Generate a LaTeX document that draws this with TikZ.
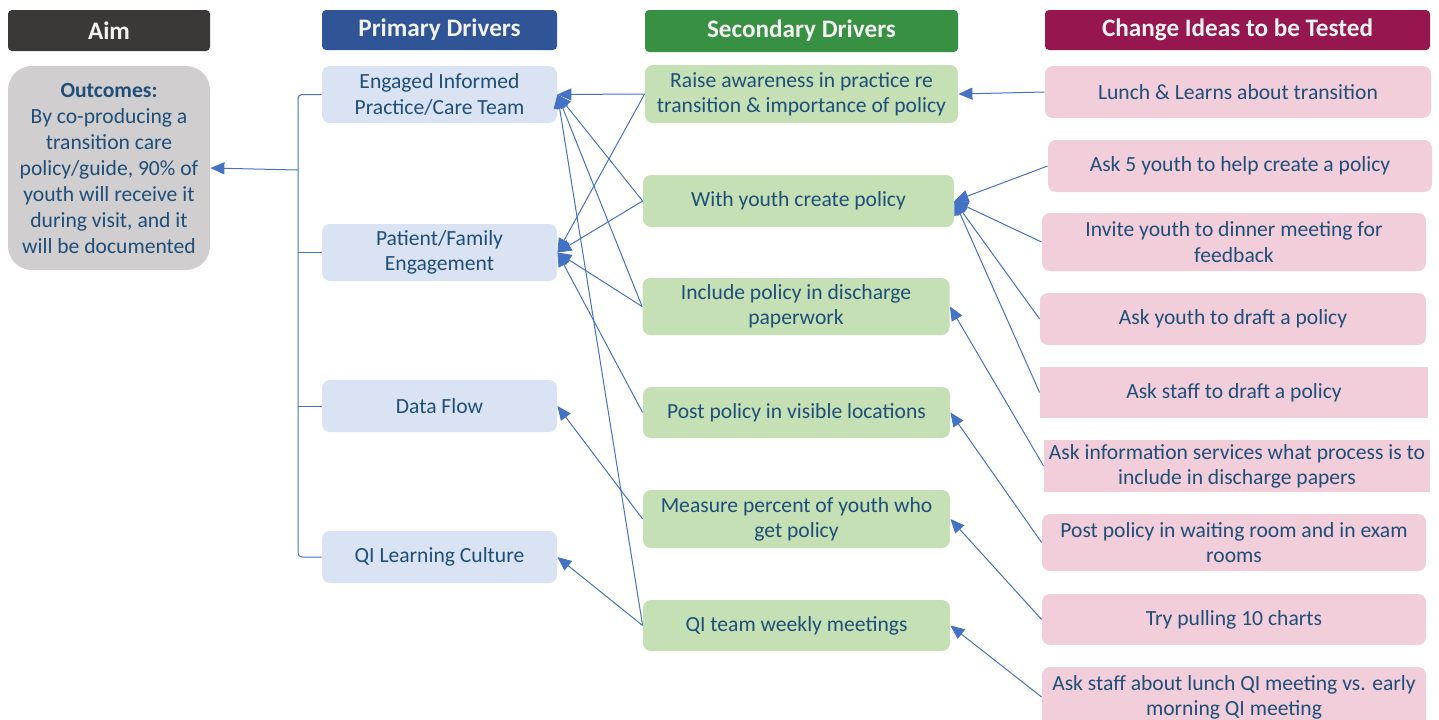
\documentclass[tikz,border=0pt]{standalone}
\usepackage{fontspec}
\setmainfont{Carlito}
\usetikzlibrary{arrows.meta}

\definecolor{linkblue}{HTML}{4472C4}
\definecolor{textblue}{HTML}{1F4E79}
\definecolor{headtext}{HTML}{F2F2F2}
\definecolor{aimhead}{HTML}{3B3838}
\definecolor{prihead}{HTML}{2F5597}
\definecolor{sechead}{HTML}{389142}
\definecolor{chghead}{HTML}{961650}
\definecolor{aimfill}{HTML}{D0CECE}
\definecolor{prifill}{HTML}{DAE3F3}
\definecolor{secfill}{HTML}{C5E0B4}
\definecolor{chgfill}{HTML}{F2CDDA}

\begin{document}
\begin{tikzpicture}[x=0.5pt,y=-0.5pt,
      >={Triangle[length=7pt,width=6pt]},
      box/.style={rounded corners=4pt, align=center, inner sep=0pt, text=textblue,
        font=\fontsize{10.8}{12.6}\selectfont},
      head/.style={box, rounded corners=2pt, text=headtext,
        font=\fontsize{12.6}{14}\selectfont\bfseries},
      pd/.style={box, fill=prifill, minimum width=117.5pt},
      sd/.style={box, fill=secfill, minimum width=153.5pt},
      ci/.style={box, fill=chgfill, minimum width=193pt},
      link/.style={draw=linkblue, line width=0.5pt}]
      \useasboundingbox (0,0) rectangle (1439,719);
      % column heads
      \node [head, fill=aimhead, minimum width=101pt, minimum height=20.5pt] (haim) at (109,30.5) {Aim};
      \node [head, fill=prihead, minimum width=117.5pt, minimum height=20pt] (hpri) at (439.5,30) {Primary Drivers};
      \node [head, fill=sechead, minimum width=156.5pt, minimum height=21pt] (hsec) at (801.5,31) {Secondary Drivers};
      \node [head, fill=chghead, minimum width=192.5pt, minimum height=20pt] (hchg) at (1237.5,30) {Change Ideas to be Tested};
      % aim
      \node [box, fill=aimfill, rounded corners=12pt, minimum width=101pt, minimum height=102pt,
        font=\fontsize{10.8}{13}\selectfont] (aim) at (109,168)
        {\textbf{Outcomes:}\\By co-producing a\\transition care\\policy/guide, 90\% of\\youth will receive it\\during visit, and it\\will be documented};
      % primary drivers
      \node [pd, minimum height=28.5pt] (eng) at (439.5,94.5) {Engaged Informed\\Practice/Care Team};
      \node [pd, minimum height=28.5pt] (pat) at (439.5,252.5) {Patient/Family\\Engagement};
      \node [pd, minimum height=26pt] (dat) at (439.5,406) {Data Flow};
      \node [pd, minimum height=26pt] (qil) at (439.5,557) {QI Learning Culture};
      % secondary drivers
      \node [sd, minimum width=156.5pt, minimum height=29pt] (rai) at (801.5,94) {Raise awareness in practice re\\transition \& importance of policy};
      \node [sd, minimum width=155.5pt, minimum height=26pt] (wyo) at (798.5,201) {With youth create policy};
      \node [sd, minimum height=28.5pt] (inc) at (796,306.5) {Include policy in discharge\\paperwork};
      \node [sd, minimum height=25.5pt] (pst) at (796.5,412.5) {Post policy in visible locations};
      \node [sd, minimum height=29pt] (mea) at (796.5,519) {Measure percent of youth who\\get policy};
      \node [sd, minimum height=25.5pt] (qiw) at (796.5,625.5) {QI team weekly meetings};
      % change ideas
      \node [ci, minimum height=26pt] (lun) at (1238,92) {Lunch \& Learns about transition};
      \node [ci, minimum width=192pt, minimum height=26pt] (ask) at (1240,166) {Ask 5 youth to help create a policy};
      \node [ci, minimum width=192pt, minimum height=29pt] (inv) at (1234,242) {Invite youth to dinner meeting for\\feedback};
      \node [ci, minimum height=26pt] (ayd) at (1233,319) {Ask youth to draft a policy};
      \node [ci, sharp corners, minimum width=194pt, minimum height=25.5pt] (asd) at (1234,392.5) {Ask staff to draft a policy};
      \node [ci, sharp corners, minimum height=26pt] (ais) at (1237,466) {Ask information services what process is to\\include in discharge papers};
      \node [ci, minimum width=192pt, minimum height=28.5pt] (pwr) at (1234,542.5) {Post policy in waiting room and in exam\\rooms};
      \node [ci, minimum width=192pt, minimum height=25.5pt] (try) at (1234,619.5) {Try pulling 10 charts};
      \node [ci, minimum width=192pt, minimum height=30pt] (asl) at (1234,697) {Ask staff about lunch QI meeting vs. early\\morning QI meeting};
      % primary drivers to aim
      \coordinate (hub) at (298,170);
      \draw [link, rounded corners=2pt] (eng.west) -| (hub) |- (qil.west);
      \draw [link] (pat.west) -- (pat.west -| hub);
      \draw [link] (dat.west) -- (dat.west -| hub);
      \draw [link, ->] (hub) -- (aim.east);
      % secondary to primary
      \draw [link, ->] (rai.west) -- (eng.east);
      \draw [link, ->] (wyo.west) -- (eng.east);
      \draw [link, ->] (inc.west) -- (eng.east);
      \draw [link, ->] (qiw.west) -- (eng.east);
      \draw [link, ->] (rai.west) -- (pat.east);
      \draw [link, ->] (wyo.west) -- (pat.east);
      \draw [link, ->] (inc.west) -- (pat.east);
      \draw [link, ->] (pst.west) -- (pat.east);
      \draw [link, ->] (mea.west) -- (dat.east);
      \draw [link, ->] (qiw.west) -- (qil.east);
      % change ideas to secondary
      \draw [link, ->] (lun.west) -- (rai.east);
      \draw [link, ->] (ask.west) -- (wyo.east);
      \draw [link, ->] (inv.west) -- (wyo.east);
      \draw [link, ->] (ayd.west) -- (wyo.east);
      \draw [link, ->] (asd.west) -- (wyo.east);
      \draw [link, ->] (ais.west) -- (inc.east);
      \draw [link, ->] (pwr.west) -- (pst.east);
      \draw [link, ->] (try.west) -- (mea.east);
      \draw [link, ->] (asl.west) -- (qiw.east);
\end{tikzpicture}
\end{document}
